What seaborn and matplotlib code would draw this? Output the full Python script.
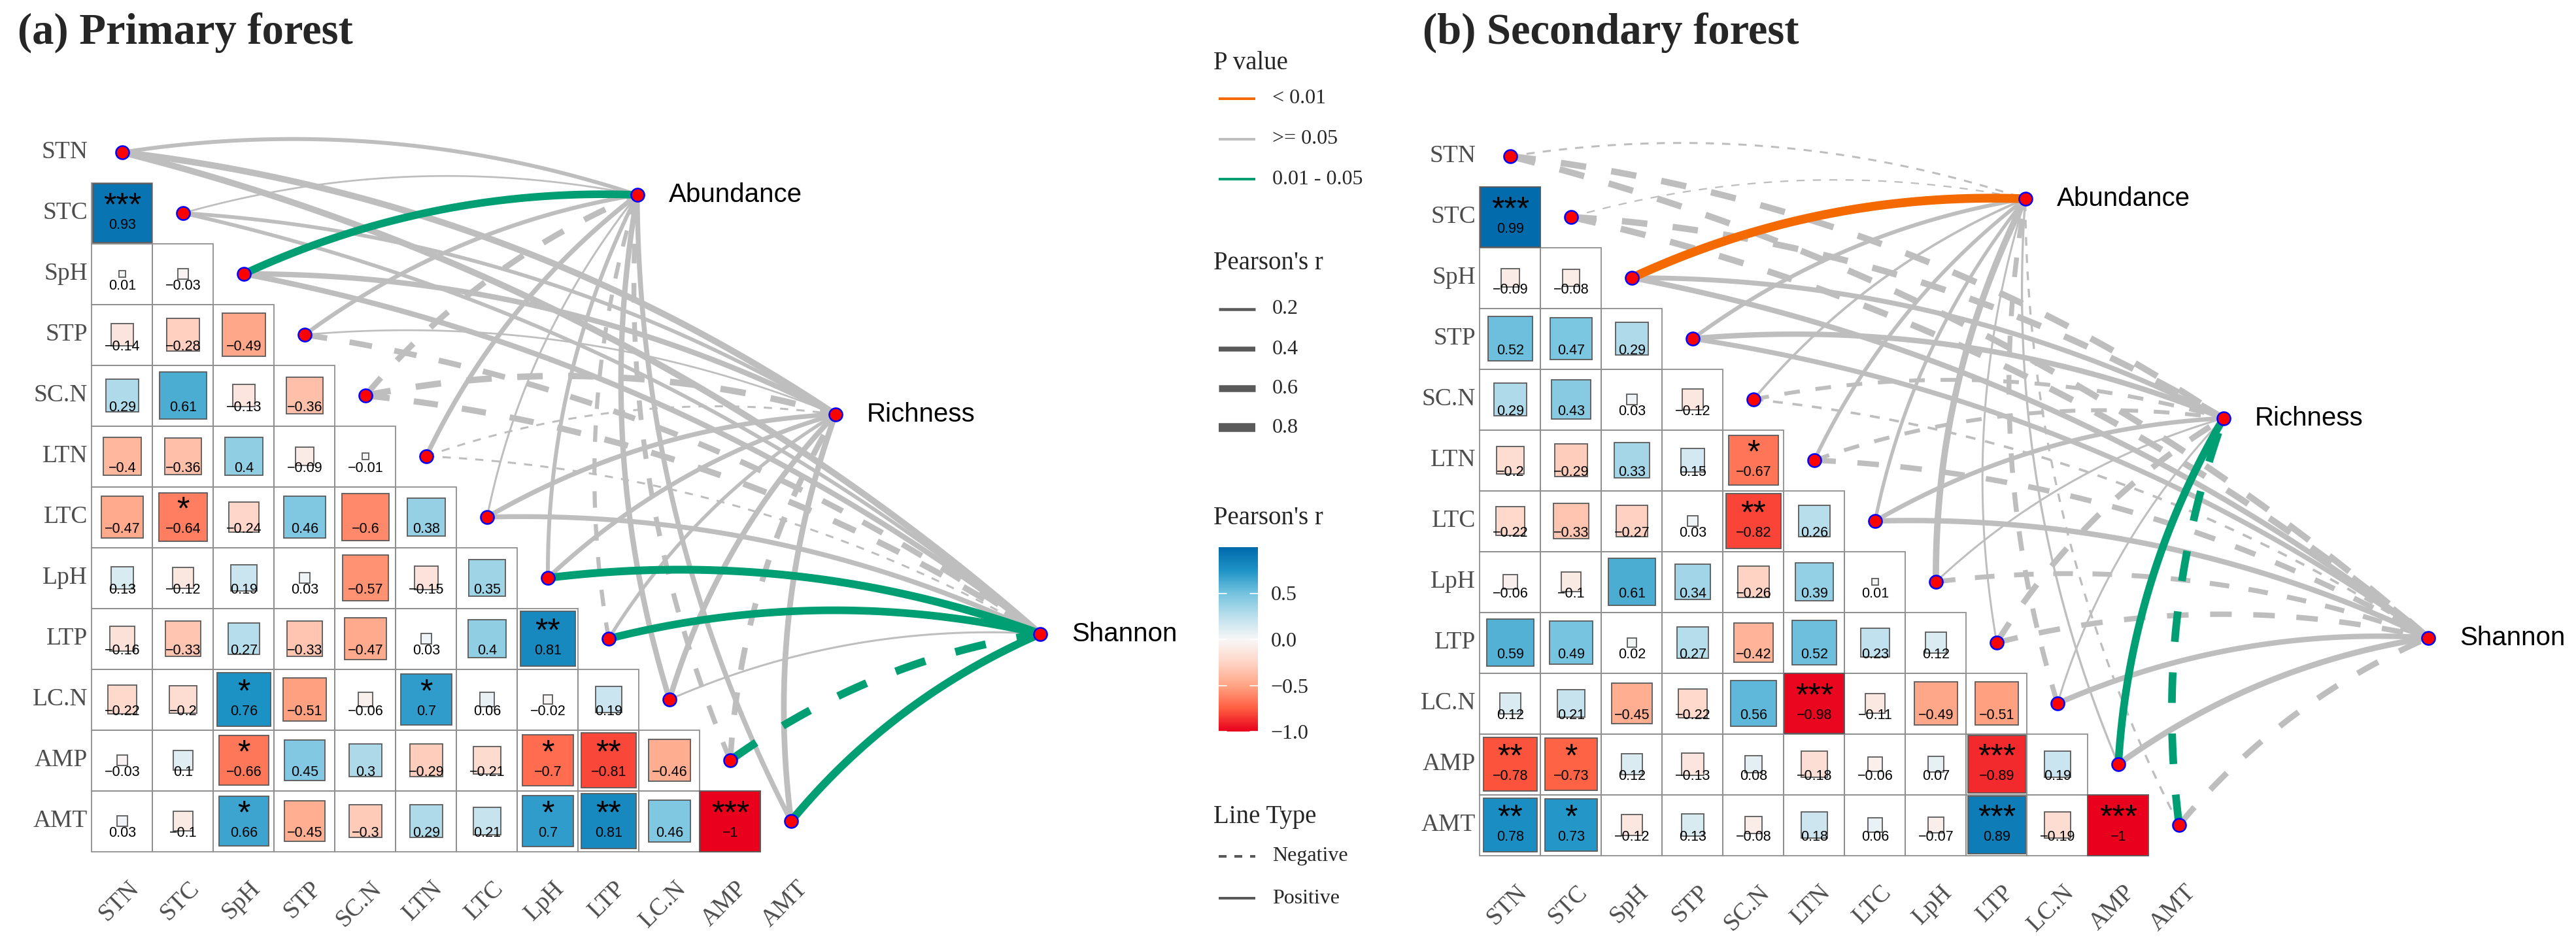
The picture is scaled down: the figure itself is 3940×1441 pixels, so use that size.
import numpy as np
import pandas as pd
import matplotlib
matplotlib.use("Agg")
import matplotlib.pyplot as plt
import seaborn as sns
from matplotlib.colors import LinearSegmentedColormap, Normalize
from matplotlib.patches import Rectangle
import matplotlib.colorbar as mcolorbar

sns.set_theme(style="white")
plt.rcParams["font.family"] = ["Liberation Serif", "DejaVu Serif"]

# ---------------- data ----------------
variables = ["STN", "STC", "SpH", "STP", "SC.N", "LTN", "LTC", "LpH", "LTP", "LC.N", "AMP", "AMT"]
targets = ["Abundance", "Richness", "Shannon"]

primary_corr = [
    [],
    [0.93],
    [0.01, -0.03],
    [-0.14, -0.28, -0.49],
    [0.29, 0.61, -0.13, -0.36],
    [-0.4, -0.36, 0.4, -0.09, -0.01],
    [-0.47, -0.64, -0.24, 0.46, -0.6, 0.38],
    [0.13, -0.12, 0.19, 0.03, -0.57, -0.15, 0.35],
    [-0.16, -0.33, 0.27, -0.33, -0.47, 0.03, 0.4, 0.81],
    [-0.22, -0.2, 0.76, -0.51, -0.06, 0.7, 0.06, -0.02, 0.19],
    [-0.03, 0.1, -0.66, 0.45, 0.3, -0.29, -0.21, -0.7, -0.81, -0.46],
    [0.03, -0.1, 0.66, -0.45, -0.3, 0.29, 0.21, 0.7, 0.81, 0.46, -1],
]
primary_stars = [
    [],
    ["***"],
    ["", ""],
    ["", "", ""],
    ["", "", "", ""],
    ["", "", "", "", ""],
    ["", "*", "", "", "", ""],
    ["", "", "", "", "", "", ""],
    ["", "", "", "", "", "", "", "**"],
    ["", "", "*", "", "", "*", "", "", ""],
    ["", "", "*", "", "", "", "", "*", "**", ""],
    ["", "", "*", "", "", "", "", "*", "**", "", "***"],
]
secondary_corr = [
    [],
    [0.99],
    [-0.09, -0.08],
    [0.52, 0.47, 0.29],
    [0.29, 0.43, 0.03, -0.12],
    [-0.2, -0.29, 0.33, 0.15, -0.67],
    [-0.22, -0.33, -0.27, 0.03, -0.82, 0.26],
    [-0.06, -0.1, 0.61, 0.34, -0.26, 0.39, 0.01],
    [0.59, 0.49, 0.02, 0.27, -0.42, 0.52, 0.23, 0.12],
    [0.12, 0.21, -0.45, -0.22, 0.56, -0.98, -0.11, -0.49, -0.51],
    [-0.78, -0.73, 0.12, -0.13, 0.08, -0.18, -0.06, 0.07, -0.89, 0.19],
    [0.78, 0.73, -0.12, 0.13, -0.08, 0.18, 0.06, -0.07, 0.89, -0.19, -1],
]
secondary_stars = [
    [],
    ["***"],
    ["", ""],
    ["", "", ""],
    ["", "", "", ""],
    ["", "", "", "", "*"],
    ["", "", "", "", "**", ""],
    ["", "", "", "", "", "", ""],
    ["", "", "", "", "", "", "", ""],
    ["", "", "", "", "", "***", "", "", ""],
    ["**", "*", "", "", "", "", "", "", "***", ""],
    ["**", "*", "", "", "", "", "", "", "***", "", "***"],
]

# links: variable -> target (r estimated from line width / type)
primary_abundance_r = [0.30, 0.08, 0.68, 0.32, -0.50, 0.38, 0.10, 0.30, -0.32, 0.45, -0.40, 0.40]
primary_abundance_p = [">= 0.05", ">= 0.05", "0.01 - 0.05", ">= 0.05", ">= 0.05", ">= 0.05",
                       ">= 0.05", ">= 0.05", ">= 0.05", ">= 0.05", ">= 0.05", ">= 0.05"]
primary_richness_r = [0.55, 0.28, 0.45, 0.08, -0.55, -0.10, 0.38, 0.35, 0.25, 0.45, -0.48, 0.48]
primary_richness_p = [">= 0.05"] * 12
primary_shannon_r = [0.55, 0.28, 0.45, -0.48, -0.52, -0.10, 0.40, 0.70, 0.68, 0.10, -0.70, 0.70]
primary_shannon_p = [">= 0.05", ">= 0.05", ">= 0.05", ">= 0.05", ">= 0.05", ">= 0.05",
                     ">= 0.05", "0.01 - 0.05", "0.01 - 0.05", ">= 0.05", "0.01 - 0.05", "0.01 - 0.05"]

secondary_abundance_r = [-0.10, -0.05, 0.80, 0.30, 0.15, 0.28, 0.25, 0.55, 0.10, -0.40, 0.12, -0.12]
secondary_abundance_p = [">= 0.05", ">= 0.05", "< 0.01", ">= 0.05", ">= 0.05", ">= 0.05",
                         ">= 0.05", ">= 0.05", ">= 0.05", ">= 0.05", ">= 0.05", ">= 0.05"]
secondary_richness_r = [-0.55, -0.55, 0.40, 0.45, -0.30, -0.30, 0.35, 0.10, -0.50, 0.10, 0.68, -0.68]
secondary_richness_p = [">= 0.05", ">= 0.05", ">= 0.05", ">= 0.05", ">= 0.05", ">= 0.05",
                        ">= 0.05", ">= 0.05", ">= 0.05", ">= 0.05", "0.01 - 0.05", "0.01 - 0.05"]
secondary_shannon_r = [-0.55, -0.55, 0.45, 0.40, -0.15, -0.45, 0.45, -0.40, -0.45, 0.45, 0.50, -0.50]
secondary_shannon_p = [">= 0.05"] * 12

p_levels = ["< 0.01", ">= 0.05", "0.01 - 0.05"]
size_breaks = [0.2, 0.4, 0.6, 0.8]
cbar_ticks = [-1.0, -0.5, 0.0, 0.5]
cbar_labels = ["\u22121.0", "\u22120.5", "0.0", "0.5"]

# ---------------- style ----------------
W, H, DPI = 3941, 1441, 100
U = 93.0  # pixels per heatmap cell
p_colors = {"< 0.01": "#F46A00", ">= 0.05": "#BEBEBE", "0.01 - 0.05": "#009E73"}
cmap = LinearSegmentedColormap.from_list(
    "rb",
    [(0.0, "#E8001C"), (0.125, "#FF5E42"), (0.25, "#FFA585"), (0.375, "#FFD5C7"),
     (0.5, "#F7F7F7"), (0.625, "#BCDFEC"), (0.75, "#74C3DF"), (0.875, "#1E93C6"),
     (1.0, "#006AAB")])
norm = Normalize(-1, 1)
target_pos = {"Abundance": (8.47, 0.70), "Richness": (11.73, 4.31), "Shannon": (15.10, 7.92)}
LABEL_FS = 27


def px2pt(px):
    return px * 72.0 / DPI


def lw_of(r):
    return px2pt(1.5 + 15.0 * abs(r))


fig = plt.figure(figsize=(W / DPI, H / DPI), dpi=DPI)


def panel_axes(ox, oy, xlim=(-1.9, 17.6), ylim=(-2.2, 13.2)):
    left = ox + xlim[0] * U
    width = (xlim[1] - xlim[0]) * U
    top = oy + ylim[0] * U
    height = (ylim[1] - ylim[0]) * U
    ax = fig.add_axes([left / W, 1 - (top + height) / H, width / W, height / H])
    ax.set_xlim(*xlim)
    ax.set_ylim(ylim[1], ylim[0])
    ax.axis("off")
    return ax


def fmt(v):
    return f"{v:g}".replace("-", "\u2212")


def curve(p0, p1, k=0.12, n=80):
    x0, y0 = p0
    x1, y1 = p1
    mx, my = (x0 + x1) / 2, (y0 + y1) / 2
    dx, dY = x1 - x0, -(y1 - y0)
    cx = mx - k * dY
    cy = -((-my) + k * dx)
    t = np.linspace(0, 1, n)
    xs = (1 - t) ** 2 * x0 + 2 * (1 - t) * t * cx + t ** 2 * x1
    ys = (1 - t) ** 2 * y0 + 2 * (1 - t) * t * cy + t ** 2 * y1
    return xs, ys


def draw_panel(ax, corr, stars, links):
    for i, (row, srow) in enumerate(zip(corr, stars)):
        for j, (r, s) in enumerate(zip(row, srow)):
            ax.add_patch(Rectangle((j - 0.5, i - 0.5), 1, 1, fill=False, ec="#8F8F8F",
                                   lw=1.3, zorder=1))
            side = np.sqrt(abs(r))
            ax.add_patch(Rectangle((j - side / 2, i - side / 2), side, side,
                                   fc=cmap(norm(r)), ec="#5A5A5A", lw=1.3, zorder=2))
            ax.text(j, i + 0.26, fmt(r), ha="center", va="baseline", fontsize=15.5,
                    family="Liberation Sans", color="black", zorder=4)
            if s:
                ax.text(j, i + 0.04, s, ha="center", va="baseline", fontsize=36,
                        family="Liberation Sans", color="black", zorder=4)
    n = len(variables)
    for i, v in enumerate(variables):
        ax.text(-0.57, i, v, ha="right", va="center", fontsize=LABEL_FS, color="#4D4D4D")
        ax.text(i + 0.08, n - 0.5 + 0.42, v, ha="right", va="top", rotation=45,
                rotation_mode="anchor", fontsize=LABEL_FS, color="#4D4D4D")
    items = []
    for tname, (rs, ps) in links.items():
        for i, (r, p) in enumerate(zip(rs, ps)):
            items.append((0 if p == ">= 0.05" else 1, i, tname, r, p))
    items.sort(key=lambda a: a[0])
    for _, i, tname, r, p in items:
        xs, ys = curve((i, i), target_pos[tname])
        lw = lw_of(r)
        if r < 0:
            on = max(4 * lw, 9.0)
            ls = (0, (on / lw, on / lw))
        else:
            ls = "-"
        ax.plot(xs, ys, color=p_colors[p], lw=lw, linestyle=ls, solid_capstyle="butt",
                dash_capstyle="butt", zorder=5)
    nodes = pd.DataFrame({"x": list(range(n)) + [target_pos[t][0] for t in targets],
                          "y": list(range(n)) + [target_pos[t][1] for t in targets]})
    sns.scatterplot(data=nodes, x="x", y="y", ax=ax, s=210, color="red", edgecolor="blue",
                    linewidth=1.8, zorder=7, legend=False, clip_on=False)
    for t in targets:
        tx, ty = target_pos[t]
        ax.text(tx + 0.52, ty, t, ha="left", va="center", fontsize=29,
                family="Liberation Sans", color="black")
    ax.set_xlim(-1.9, 17.6)
    ax.set_ylim(13.2, -2.2)
    ax.axis("off")


ax_a = panel_axes(187, 233)
draw_panel(ax_a, primary_corr, primary_stars,
           {"Abundance": (primary_abundance_r, primary_abundance_p),
            "Richness": (primary_richness_r, primary_richness_p),
            "Shannon": (primary_shannon_r, primary_shannon_p)})
ax_b = panel_axes(2310, 239)
draw_panel(ax_b, secondary_corr, secondary_stars,
           {"Abundance": (secondary_abundance_r, secondary_abundance_p),
            "Richness": (secondary_richness_r, secondary_richness_p),
            "Shannon": (secondary_shannon_r, secondary_shannon_p)})

fig.text(27 / W, 1 - 50 / H, "(a) Primary forest", fontsize=48, fontweight="bold",
         ha="left", va="center")
fig.text(2176 / W, 1 - 50 / H, "(b) Secondary forest", fontsize=48, fontweight="bold",
         ha="left", va="center")

# ---------------- legends ----------------
lax = fig.add_axes([0, 0, 1, 1])
lax.set_xlim(0, W)
lax.set_ylim(H, 0)
lax.axis("off")
LX0, LX1, TX = 1864, 1920, 1946
lax.text(1856, 96, "P value", fontsize=28, ha="left", va="center")
for lab, yy in zip(p_levels, [151, 213, 274]):
    lax.plot([LX0, LX1], [yy, yy], color=p_colors[lab], lw=px2pt(4), solid_capstyle="butt")
    lax.text(TX, yy, lab, fontsize=23, ha="left", va="center")
lax.text(1856, 402, "Pearson's r", fontsize=28, ha="left", va="center")
for b, yy in zip(size_breaks, [473, 534, 594, 654]):
    lax.plot([LX0, LX1], [yy, yy], color="#5A5A5A", lw=lw_of(b), solid_capstyle="butt")
    lax.text(TX, yy, f"{b}", fontsize=23, ha="left", va="center")
lax.text(1856, 792, "Pearson's r", fontsize=28, ha="left", va="center")
lax.text(1856, 1250, "Line Type", fontsize=28, ha="left", va="center")
lax.plot([LX0, LX1], [1310, 1310], color="#5A5A5A", lw=px2pt(4), linestyle=(0, (3, 3)))
lax.text(TX, 1310, "Negative", fontsize=23, ha="left", va="center")
lax.plot([LX0, LX1], [1374, 1374], color="#5A5A5A", lw=px2pt(4), solid_capstyle="butt")
lax.text(TX, 1374, "Positive", fontsize=23, ha="left", va="center")

cb_top, cb_bot, cb_l, cb_w = 837, 1119, 1864, 60
cax = fig.add_axes([cb_l / W, 1 - cb_bot / H, cb_w / W, (cb_bot - cb_top) / H])
cb = mcolorbar.ColorbarBase(cax, cmap=cmap, norm=norm, orientation="vertical")
cb.outline.set_visible(False)
cb.set_ticks(cbar_ticks)
cb.ax.set_yticklabels(cbar_labels)
cax.tick_params(axis="y", length=0, labelsize=23, pad=14)
for t in cbar_ticks:
    cax.plot([0, 0.2], [t, t], color="white", lw=1.2, transform=cax.get_yaxis_transform())
    cax.plot([0.8, 1.0], [t, t], color="white", lw=1.2, transform=cax.get_yaxis_transform())

fig.savefig("out.png", dpi=DPI, facecolor="white")
